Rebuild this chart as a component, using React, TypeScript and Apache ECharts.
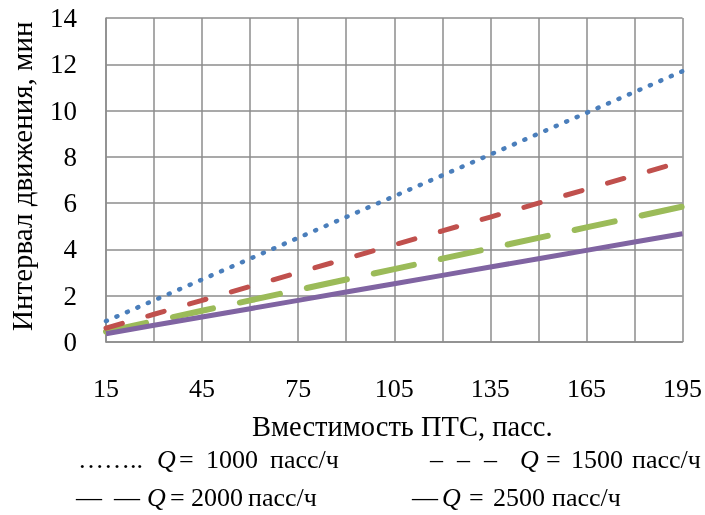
import React, { useEffect, useRef } from "react";
import * as echarts from "echarts";

const capacity = [15, 30, 45, 60, 75, 90, 105, 120, 135, 150, 165, 180, 195];
const q1000 = [0.9, 1.8, 2.7, 3.6, 4.5, 5.4, 6.3, 7.2, 8.1, 9.0, 9.9, 10.8, 11.7];
const q1500 = [0.6, 1.2, 1.8, 2.4, 3.0, 3.6, 4.2, 4.8, 5.4, 6.0, 6.6, 7.2, 7.8];
const q2000 = [0.45, 0.9, 1.35, 1.8, 2.25, 2.7, 3.15, 3.6, 4.05, 4.5, 4.95, 5.4, 5.85];
const q2500 = [0.36, 0.72, 1.08, 1.44, 1.8, 2.16, 2.52, 2.88, 3.24, 3.6, 3.96, 4.32, 4.68];
const xTickLabels = [15, 45, 75, 105, 135, 165, 195];
const yTitle = "Интервал движения, мин";
const xTitle = "Вместимость ПТС, пасс.";
const legendFlows = ["1000", "1500", "2000", "2500"];
const legendUnit = "пасс/ч";

const SERIF = "Liberation Serif";

export default function App() {
  const ref = useRef<HTMLDivElement>(null);
  useEffect(() => {
    if (!ref.current) return;
    const chart = echarts.init(ref.current, undefined, { renderer: "svg" });
    const mk = (vals: number[]) => capacity.map((c, i) => [c, vals[i]]);
    const gridColor = "#8c8c8c";

    const txt = (text: string, x: number, y: number, italic = false, size = 26) => ({
      type: "text",
      x,
      y,
      style: {
        text,
        fontFamily: SERIF,
        fontStyle: italic ? "italic" : "normal",
        fontSize: size,
        fill: "#000",
      },
    });

    const rows = [446, 484];
    const legendLayout = [
      { marks: [["……..", 78]], q: 157, eq: 179, num: 206, unit: 270, y: rows[0] },
      { marks: [["–", 430], ["–", 457], ["–", 484]], q: 520, eq: 546, num: 571, unit: 632, y: rows[0] },
      { marks: [["—", 76], ["—", 114]], q: 147, eq: 170, num: 191, unit: 248, y: rows[1] },
      { marks: [["—", 412]], q: 442, eq: 469, num: 493, unit: 552, y: rows[1] },
    ];
    const legendGraphics: any[] = [];
    legendLayout.forEach((l, i) => {
      l.marks.forEach((m: any) => legendGraphics.push(txt(m[0], m[1], l.y)));
      legendGraphics.push(txt("Q", l.q, l.y, true));
      legendGraphics.push(txt("=", l.eq, l.y));
      legendGraphics.push(txt(legendFlows[i], l.num, l.y));
      legendGraphics.push(txt(legendUnit, l.unit, l.y));
    });

    chart.setOption({
      animation: false,
      grid: { left: 106, top: 18, right: 22, bottom: 173, containLabel: false },
      xAxis: {
        type: "value",
        min: 15,
        max: 195,
        interval: 15,
        axisLine: { show: true, lineStyle: { color: gridColor, width: 1.5 } },
        axisTick: { show: false },
        splitLine: { show: true, lineStyle: { color: gridColor, width: 1.5 } },
        axisLabel: {
          margin: 33,
          color: "#000",
          fontFamily: SERIF,
          fontSize: 26,
          formatter: (v: number) => (xTickLabels.includes(v) ? String(v) : ""),
        },
      },
      yAxis: {
        type: "value",
        min: 0,
        max: 14,
        interval: 2,
        axisLine: { show: true, lineStyle: { color: gridColor, width: 1.5 } },
        axisTick: { show: false },
        splitLine: { show: true, lineStyle: { color: gridColor, width: 1.5 } },
        axisLabel: { margin: 29, color: "#000", fontFamily: SERIF, fontSize: 27 },
      },
      series: [
        {
          name: "Q = 2000",
          type: "line",
          data: mk(q2000),
          symbol: "none",
          lineStyle: { color: "#9bbb59", width: 6, type: [41, 27.5], cap: "round" },
        },
        {
          name: "Q = 2500",
          type: "line",
          data: mk(q2500),
          symbol: "none",
          lineStyle: { color: "#8064a2", width: 5 },
        },
        {
          name: "Q = 1500",
          type: "line",
          data: mk(q1500),
          symbol: "none",
          lineStyle: { color: "#c0504d", width: 5, type: [17, 26.5], cap: "round" },
        },
        {
          name: "Q = 1000",
          type: "line",
          data: mk(q1000),
          symbol: "none",
          lineStyle: { color: "#4a7ebb", width: 4.5, type: [1, 10.4], cap: "round" },
        },
      ],
      graphic: [
        {
          type: "text",
          x: 7,
          y: 331,
          rotation: Math.PI / 2,
          style: {
            text: yTitle,
            fontFamily: SERIF,
            fontSize: 29,
            fill: "#000",
          },
        },
        {
          type: "text",
          x: 252,
          y: 411.5,
          style: {
            text: xTitle,
            fontFamily: SERIF,
            fontSize: 28.5,
            fill: "#000",
          },
        },
        ...legendGraphics,
      ],
    });
    return () => chart.dispose();
  }, []);
  return <div ref={ref} style={{ position: "fixed", left: 0, top: 0, width: 705, height: 515 }} />;
}
